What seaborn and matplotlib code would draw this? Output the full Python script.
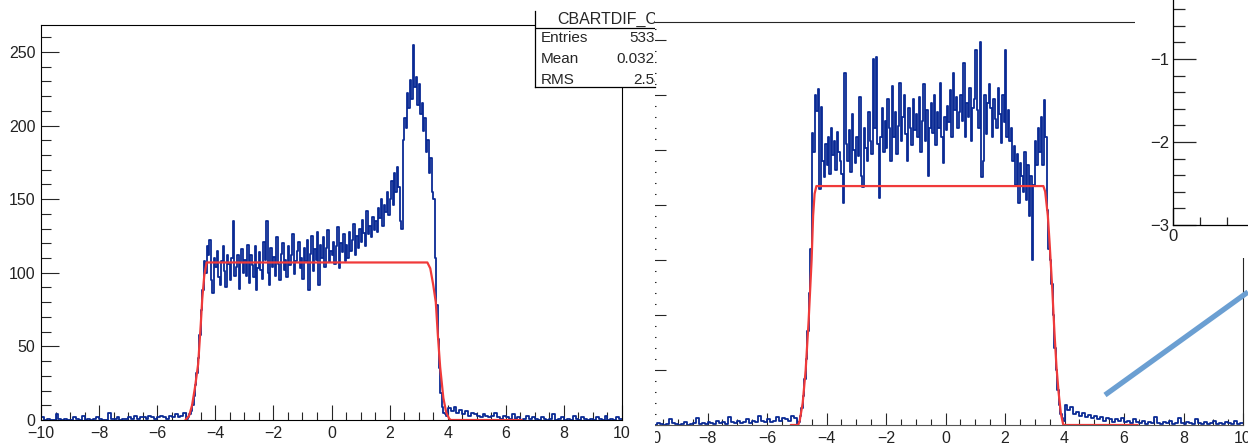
import numpy as np
import pandas as pd
import seaborn as sns
import matplotlib.pyplot as plt
from matplotlib.lines import Line2D
from matplotlib.ticker import MultipleLocator

sns.set_style("ticks")
plt.rcParams['font.family'] = ['Liberation Sans', 'DejaVu Sans']

W, H = 1248, 443

# bin edges: coarse tails, finer core
edges = np.concatenate([np.linspace(-10, -5, 51)[:-1],
                        np.linspace(-5, 4, 181)[:-1],
                        np.linspace(4, 10, 61)])
centers = (edges[:-1] + edges[1:]) / 2

# left histogram (CBARTDIF_C...)
left_lo = [2, 0, 1, 0, 0, 4, 1, 0, 1, 0, 0, 2, 1, 0, 3, 0, 1, 0, 1, 2,
           1, 0, 0, 5, 1, 1, 2, 0, 1, 1, 2, 1, 3, 1, 2, 2, 1, 3, 2, 1,
           2, 3, 2, 1, 3, 2, 4, 2, 3, 5]
left_core = [1, 2, 4, 6, 10, 16, 24, 32, 42, 58,
             75, 88, 108, 100, 118, 112, 122, 95, 86, 110,
             104, 115, 97, 92, 108, 118, 101, 90, 112, 106,
             95, 110, 135, 98, 104, 112, 89, 107, 116, 100,
             109, 98, 119, 93, 112, 105, 97, 118, 88, 103,
             114, 102, 96, 121, 109, 135, 100, 92, 117, 104,
             111, 98, 124, 106, 95, 113, 120, 102, 109, 97,
             118, 105, 112, 126, 99, 108, 115, 121, 103, 110,
             96, 117, 108, 122, 88, 113, 125, 101, 116, 109,
             128, 92, 119, 110, 124, 104, 117, 129, 107, 115,
             112, 121, 106, 118, 131, 103, 120, 114, 126, 108,
             119, 110, 128, 115, 122, 133, 112, 125, 117, 130,
             121, 136, 127, 118, 142, 126, 132, 124, 138, 129,
             135, 128, 144, 137, 150, 132, 146, 141, 155, 139,
             150, 162, 146, 168, 155, 172, 158, 135, 130, 190,
             205, 198, 222, 212, 231, 218, 255, 226, 233, 214,
             228, 208, 215, 196, 205, 182, 190, 168, 178, 155,
             150, 110, 78, 55, 35, 18, 9, 5, 4, 3]
left_hi = [8, 6, 9, 5, 7, 4, 6, 3, 5, 4, 3, 2, 4, 3, 2, 3, 5, 2, 1, 3,
           2, 1, 4, 1, 2, 0, 1, 3, 1, 2, 1, 0, 2, 1, 0, 1, 4, 0, 1, 2,
           0, 1, 0, 3, 1, 0, 2, 1, 0, 1, 0, 2, 1, 0, 3, 0, 1, 0, 2, 1]
left_fit_x = [-5.03, -4.9, -4.8, -4.7, -4.59, -4.5, -4.45, -4.38, -4.3,
              3.3, 3.4, 3.5, 3.59, 3.66, 3.74, 3.85, 3.95, 4.05, 4.1, 6.55]
left_fit_y = [0, 3, 10, 22, 38, 65, 82, 98, 107,
              107, 103, 92, 80, 58, 36, 15, 5, 1, 0, 0]

# right histogram
right_lo = [3, 1, 0, 2, 1, 0, 1, 5, 2, 1, 0, 1, 3, 0, 1, 2, 6, 1, 2, 1,
            3, 2, 1, 4, 2, 3, 1, 7, 3, 2, 4, 2, 3, 5, 2, 4, 3, 8, 4, 3,
            5, 3, 4, 7, 4, 6, 5, 4, 8, 6]
right_core = [1, 3, 8, 15, 26, 42, 60, 85, 120, 160,
              265, 248, 300, 285, 305, 214, 289, 240, 225, 255,
              236, 262, 228, 270, 245, 258, 232, 266, 248, 240,
              228, 202, 320, 255, 240, 268, 230, 282, 250, 238,
              262, 244, 298, 226, 216, 270, 252, 240, 284, 258,
              246, 332, 270, 334, 255, 206, 262, 288, 248, 276,
              252, 296, 270, 240, 308, 262, 284, 246, 272, 311,
              258, 280, 300, 264, 240, 288, 270, 254, 296, 268,
              282, 262, 298, 248, 276, 310, 258, 286, 226, 270,
              292, 265, 300, 254, 284, 270, 311, 262, 238, 280,
              268, 290, 275, 304, 262, 320, 286, 298, 270, 284,
              300, 276, 329, 262, 292, 280, 306, 258, 288, 296,
              341, 286, 270, 348, 225, 240, 300, 264, 292, 310,
              288, 262, 296, 278, 270, 306, 282, 256, 300, 275,
              341, 262, 286, 258, 270, 240, 253, 218, 246, 202,
              238, 226, 212, 248, 204, 236, 190, 226, 150, 218,
              258, 236, 270, 248, 280, 236, 295, 262, 195, 160,
              150, 128, 100, 70, 50, 32, 18, 10, 6, 4]
right_hi = [18, 14, 16, 10, 12, 8, 11, 7, 9, 6, 8, 5, 7, 4, 6, 5, 3, 5, 4, 6,
            3, 4, 2, 5, 3, 2, 4, 1, 3, 2, 7, 2, 1, 3, 2, 4, 1, 2, 6, 2,
            1, 3, 2, 1, 5, 2, 1, 3, 1, 2, 4, 1, 2, 1, 3, 2, 1, 4, 1, 2]
right_fit_x = [-5.2, -4.95, -4.9, -4.8, -4.7, -4.6, -4.5, -4.45, -4.4, -4.34,
               3.29, 3.35, 3.44, 3.5, 3.59, 3.66, 3.73, 3.8, 3.88, 3.96, 6.46]
right_fit_y = [0, 0, 4, 20, 50, 95, 150, 190, 210, 217,
               217, 212, 190, 165, 123, 85, 53, 30, 10, 0, 0]

stat_names = ['Entries', 'Mean', 'RMS']
stat_values = ['5334', '0.0327', '2.54']
hist_title = 'CBARTDIF_C'

BLUE = '#0a2a94'
RED = '#f03a3a'


def px(l, t, r, b):
    return [l / W, 1 - b / H, (r - l) / W, (b - t) / H]


def hist(ax, vals):
    df = pd.DataFrame({'x': centers, 'w': vals})
    sns.histplot(data=df, x='x', weights='w', bins=edges.tolist(), element='step',
                 fill=False, color=BLUE, linewidth=1.3, ax=ax)


def blank(ax):
    ax.set_facecolor('white')
    ax.set_xticks([])
    ax.set_yticks([])
    for s in ax.spines.values():
        s.set_visible(False)


def root_ticks(ax, xl, xs, yl, ys, lab=11.5):
    ax.xaxis.set_major_locator(MultipleLocator(2))
    ax.xaxis.set_minor_locator(MultipleLocator(0.5))
    ax.yaxis.set_major_locator(MultipleLocator(50))
    ax.yaxis.set_minor_locator(MultipleLocator(10))
    ax.tick_params(axis='x', which='major', direction='in', length=xl, width=0.8,
                   labelsize=lab, pad=4, top=False, labelcolor='#222222')
    ax.tick_params(axis='x', which='minor', direction='in', length=xs, width=0.8, top=False)
    ax.tick_params(axis='y', which='major', direction='in', length=yl, width=0.8,
                   labelsize=lab, pad=4, right=False, labelcolor='#222222')
    ax.tick_params(axis='y', which='minor', direction='in', length=ys, width=0.8, right=False)
    ax.set_xlabel('')
    ax.set_ylabel('')


fig = plt.figure(figsize=(W / 100, H / 100), dpi=100)

# right panel (partly hidden behind the left screenshot)
ax2 = fig.add_axes(px(648, 22, 1243, 425), zorder=0)
hist(ax2, right_lo + right_core + right_hi)
sns.lineplot(x=right_fit_x, y=right_fit_y, sort=False, estimator=None,
             color=RED, linewidth=1.6, ax=ax2)
ax2.set_xlim(-10, 10)
ax2.set_ylim(0, 366)
root_ticks(ax2, 9, 4.5, 13, 6)
ax2.set_yticklabels([])
ax2.spines['bottom'].set_color('#555555')
for s in ax2.spines.values():
    s.set_linewidth(0.8)

# white background of the left screenshot
cover = fig.add_axes(px(0, 0, 655, 443), zorder=1)
blank(cover)

# left panel
ax1 = fig.add_axes(px(41, 25, 622, 420), zorder=2)
hist(ax1, left_lo + left_core + left_hi)
sns.lineplot(x=left_fit_x, y=left_fit_y, sort=False, estimator=None,
             color=RED, linewidth=1.6, ax=ax1)
ax1.set_xlim(-10, 10)
ax1.set_ylim(0, 268.3)
root_ticks(ax1, 11, 5.5, 13, 7)
for s in ax1.spines.values():
    s.set_linewidth(0.8)
    s.set_color('black')

# statistics box (cut at the screenshot edge)
st = fig.add_axes(px(535, 11, 655, 87), zorder=3)
st.set_xlim(535, 655)
st.set_ylim(87, 11)
blank(st)
for s in ('left', 'bottom'):
    st.spines[s].set_visible(True)
    st.spines[s].set_linewidth(0.9)
    st.spines[s].set_color('black')
st.axhline(28, color='black', lw=0.9)
st.text(557, 19, hist_title, fontsize=11.5, va='center', ha='left', clip_on=True)
for i, (n, v) in enumerate(zip(stat_names, stat_values)):
    y = 38 + i * 21
    st.text(541, y, n, fontsize=11, va='center', ha='left', clip_on=True)
    st.text(663, y, v, fontsize=11, va='center', ha='right', clip_on=True)

# inset at top right
cov2 = fig.add_axes(px(1135, 0, 1248, 258), zorder=3)
blank(cov2)

ins = fig.add_axes(px(1173, 0, 1308, 225), zorder=4)
ins.patch.set_alpha(0)
ins.set_xlim(0, 1)
ins.set_ylim(-3, -0.29)
ins.spines['top'].set_visible(False)
ins.spines['right'].set_visible(False)
for s in ('left', 'bottom'):
    ins.spines[s].set_linewidth(0.9)
    ins.spines[s].set_color('black')
ins.xaxis.set_major_locator(MultipleLocator(1))
ins.xaxis.set_minor_locator(MultipleLocator(0.2))
ins.yaxis.set_major_locator(MultipleLocator(1))
ins.yaxis.set_minor_locator(MultipleLocator(0.2))
ins.tick_params(axis='y', which='major', direction='in', length=16.5, width=0.9,
                labelsize=12, pad=3, labelcolor='#222222')
ins.tick_params(axis='y', which='minor', direction='in', length=8.5, width=0.9)
ins.tick_params(axis='x', which='major', direction='in', length=12, width=0.9,
                labelsize=12, pad=3, labelcolor='#222222')
ins.tick_params(axis='x', which='minor', direction='in', length=6, width=0.9)

# pointer line
fig.add_artist(Line2D([1105 / W, 1248 / W], [1 - 395 / H, 1 - 292 / H],
                      transform=fig.transFigure, color='#6b9fd2', lw=3.8,
                      solid_capstyle='butt', zorder=10))

fig.savefig('out.png', dpi=100)
